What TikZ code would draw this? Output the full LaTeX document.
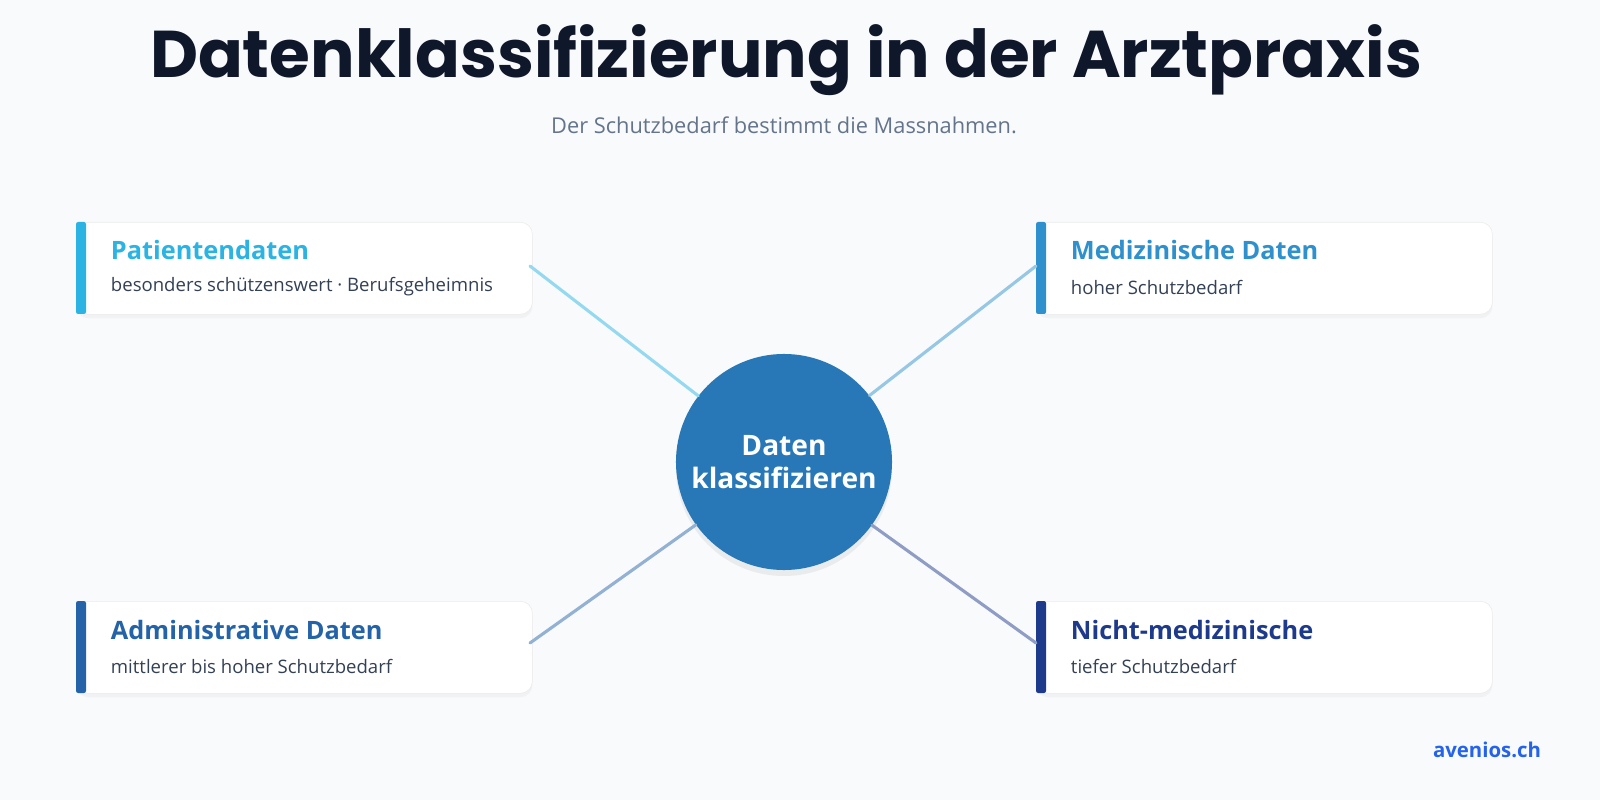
\documentclass[tikz,border=0pt]{standalone}
\usepackage{fontspec}
\setmainfont{Open Sans}
\newfontfamily\titlefont{Poppins}
\usetikzlibrary{positioning,shadows}
\definecolor{bgcol}{HTML}{F8FAFC}
\definecolor{titlecol}{HTML}{0F172A}
\definecolor{subcol}{HTML}{64748B}
\definecolor{patcol}{HTML}{2BB3E3}
\definecolor{medcol}{HTML}{2E90CC}
\definecolor{admcol}{HTML}{2563A8}
\definecolor{nmcol}{HTML}{1E3A8A}
\definecolor{hubcol}{HTML}{2878B8}
\definecolor{textcol}{HTML}{334155}
\definecolor{brandcol}{HTML}{2563EB}

\begin{document}
\begin{tikzpicture}[
    x=0.025cm, y=-0.025cm,
    card/.style={rectangle, draw=black!8, fill=white, rounded corners=3mm, minimum width=11.4cm, minimum height=2.3cm, anchor=north west, drop shadow={opacity=0.06, shadow xshift=0pt, shadow yshift=-1mm}},
    cardtitle/.style={anchor=west, font=\fontsize{18}{21}\selectfont\bfseries},
    cardtext/.style={anchor=west, font=\fontsize{13.2}{15}\selectfont, text=textcol},
    link/.style={line width=2.2pt, line cap=round}
]
    \useasboundingbox (0,0) rectangle (1600,800);
    \fill[bgcol] (0,0) rectangle (1600,800);

    % Heading
    \node[font=\titlefont\fontsize{47}{52}\selectfont\bfseries, text=titlecol] (title) at (786,60) {Datenklassifizierung in der Arztpraxis};
    \node[font=\fontsize{15.5}{18}\selectfont, text=subcol] (subtitle) at (784,125) {Der Schutzbedarf bestimmt die Massnahmen.};

    % Cards
    \node[card] (pat) at (76,222) {};
    \node[card] (med) at (1036,222) {};
    \node[card] (adm) at (76,601) {};
    \node[card] (nm) at (1036,601) {};
    \fill[patcol, rounded corners=1.5pt] (76,222) rectangle (86,314);
    \fill[medcol, rounded corners=1.5pt] (1036,222) rectangle (1046,314);
    \fill[admcol, rounded corners=1.5pt] (76,601) rectangle (86,693);
    \fill[nmcol, rounded corners=1.5pt] (1036,601) rectangle (1046,693);

    \node[cardtitle, text=patcol] (pattitle) at (106,250) {Patientendaten};
    \node[cardtext] (pattext) at (106,287) {besonders schützenswert · Berufsgeheimnis};
    \node[cardtitle, text=medcol] (medtitle) at (1066,250) {Medizinische Daten};
    \node[cardtext] (medtext) at (1066,287) {hoher Schutzbedarf};
    \node[cardtitle, text=admcol] (admtitle) at (106,630) {Administrative Daten};
    \node[cardtext] (admtext) at (106,666) {mittlerer bis hoher Schutzbedarf};
    \node[cardtitle, text=nmcol] (nmtitle) at (1066,630) {Nicht-medizinische};
    \node[cardtext] (nmtext) at (1066,666) {tiefer Schutzbedarf};

    % Hub
    \node[circle, fill=hubcol, minimum size=5.4cm, drop shadow={opacity=0.12, shadow xshift=0pt, shadow yshift=-1.5mm}, text=white, align=center, font=\fontsize{20}{24}\selectfont\bfseries] (hub) at (784,462) {Daten\\klassifizieren};

    % Connections
    \coordinate (pe) at (530,266);
    \coordinate (me) at (1036,266);
    \coordinate (ae) at (530,643);
    \coordinate (ne) at (1036,643);
    \draw[link, patcol!50] (pe) -- (hub);
    \draw[link, medcol!50] (me) -- (hub);
    \draw[link, admcol!50] (ae) -- (hub);
    \draw[link, nmcol!50] (ne) -- (hub);

    \node[font=\fontsize{14.5}{17}\selectfont\bfseries, text=brandcol, anchor=east] (brand) at (1546,750) {avenios.ch};
\end{tikzpicture}
\end{document}
